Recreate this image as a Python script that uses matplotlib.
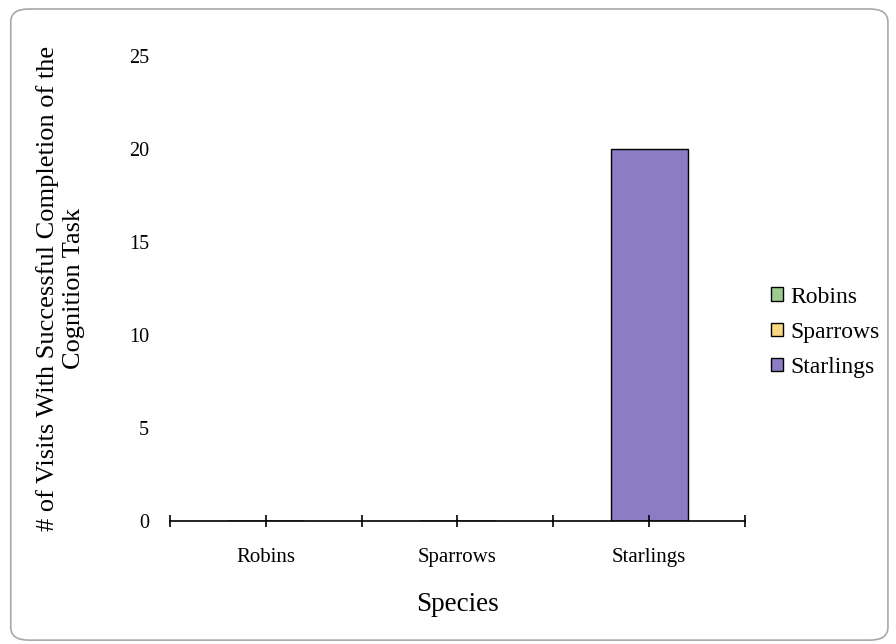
import numpy as np
import matplotlib
matplotlib.use('Agg')
import matplotlib.pyplot as plt
from matplotlib.patches import FancyBboxPatch

plt.rcParams['font.family'] = ['Liberation Serif', 'DejaVu Serif']

species = ['Robins', 'Sparrows', 'Starlings']
robins = [0, 0, 0]
sparrows = [0, 0, 0]
starlings = [0, 0, 20]
series = [('Robins', robins, '#9dcb8f'),
          ('Sparrows', sparrows, '#fbd77f'),
          ('Starlings', starlings, '#8b7cc4')]

fig = plt.figure(figsize=(8.96, 6.44), dpi=100)
ax = fig.add_axes([0.1897, 0.191, 0.6418, 0.722])

x = np.arange(len(species))
handles = []
for name, vals, col in series:
    h = ax.bar(x, vals, width=0.4, color=col, edgecolor='black', linewidth=1.0, label=name)
    handles.append(h)

ax.set_xlim(-0.5, 2.5)
ax.set_ylim(0, 25)
ax.set_yticks([0, 5, 10, 15, 20, 25])
ax.tick_params(axis='y', length=0, pad=15, labelsize=14.5)
ax.set_xticks(x)
ax.set_xticklabels(species)
ax.set_xticks([-0.5, 0.5, 1.5, 2.5], minor=True)
ax.tick_params(axis='x', which='both', direction='inout', length=9, width=1.2, pad=15, labelsize=15)
for s in ['top', 'right', 'left']:
    ax.spines[s].set_visible(False)
ax.spines['bottom'].set_linewidth(1.2)

ax.set_xlabel('Species', fontsize=19.5, labelpad=18)
ax.set_ylabel('# of Visits With Successful Completion of the\nCognition Task', fontsize=19, labelpad=32)

leg = ax.legend(handles=handles, loc='center left', bbox_to_anchor=(1.009, 0.406), frameon=False,
                fontsize=17, handlelength=0.5, handleheight=0.5, handletextpad=0.3,
                labelspacing=0.6, borderaxespad=0.5)

frame = FancyBboxPatch((0.012, 0.006), 0.979, 0.98, boxstyle='round,pad=0,rounding_size=0.02',
                       transform=fig.transFigure, facecolor='none', edgecolor='#a8a8a8',
                       linewidth=1.2, zorder=-1)
fig.patches.append(frame)

fig.savefig('out.png', dpi=100)
